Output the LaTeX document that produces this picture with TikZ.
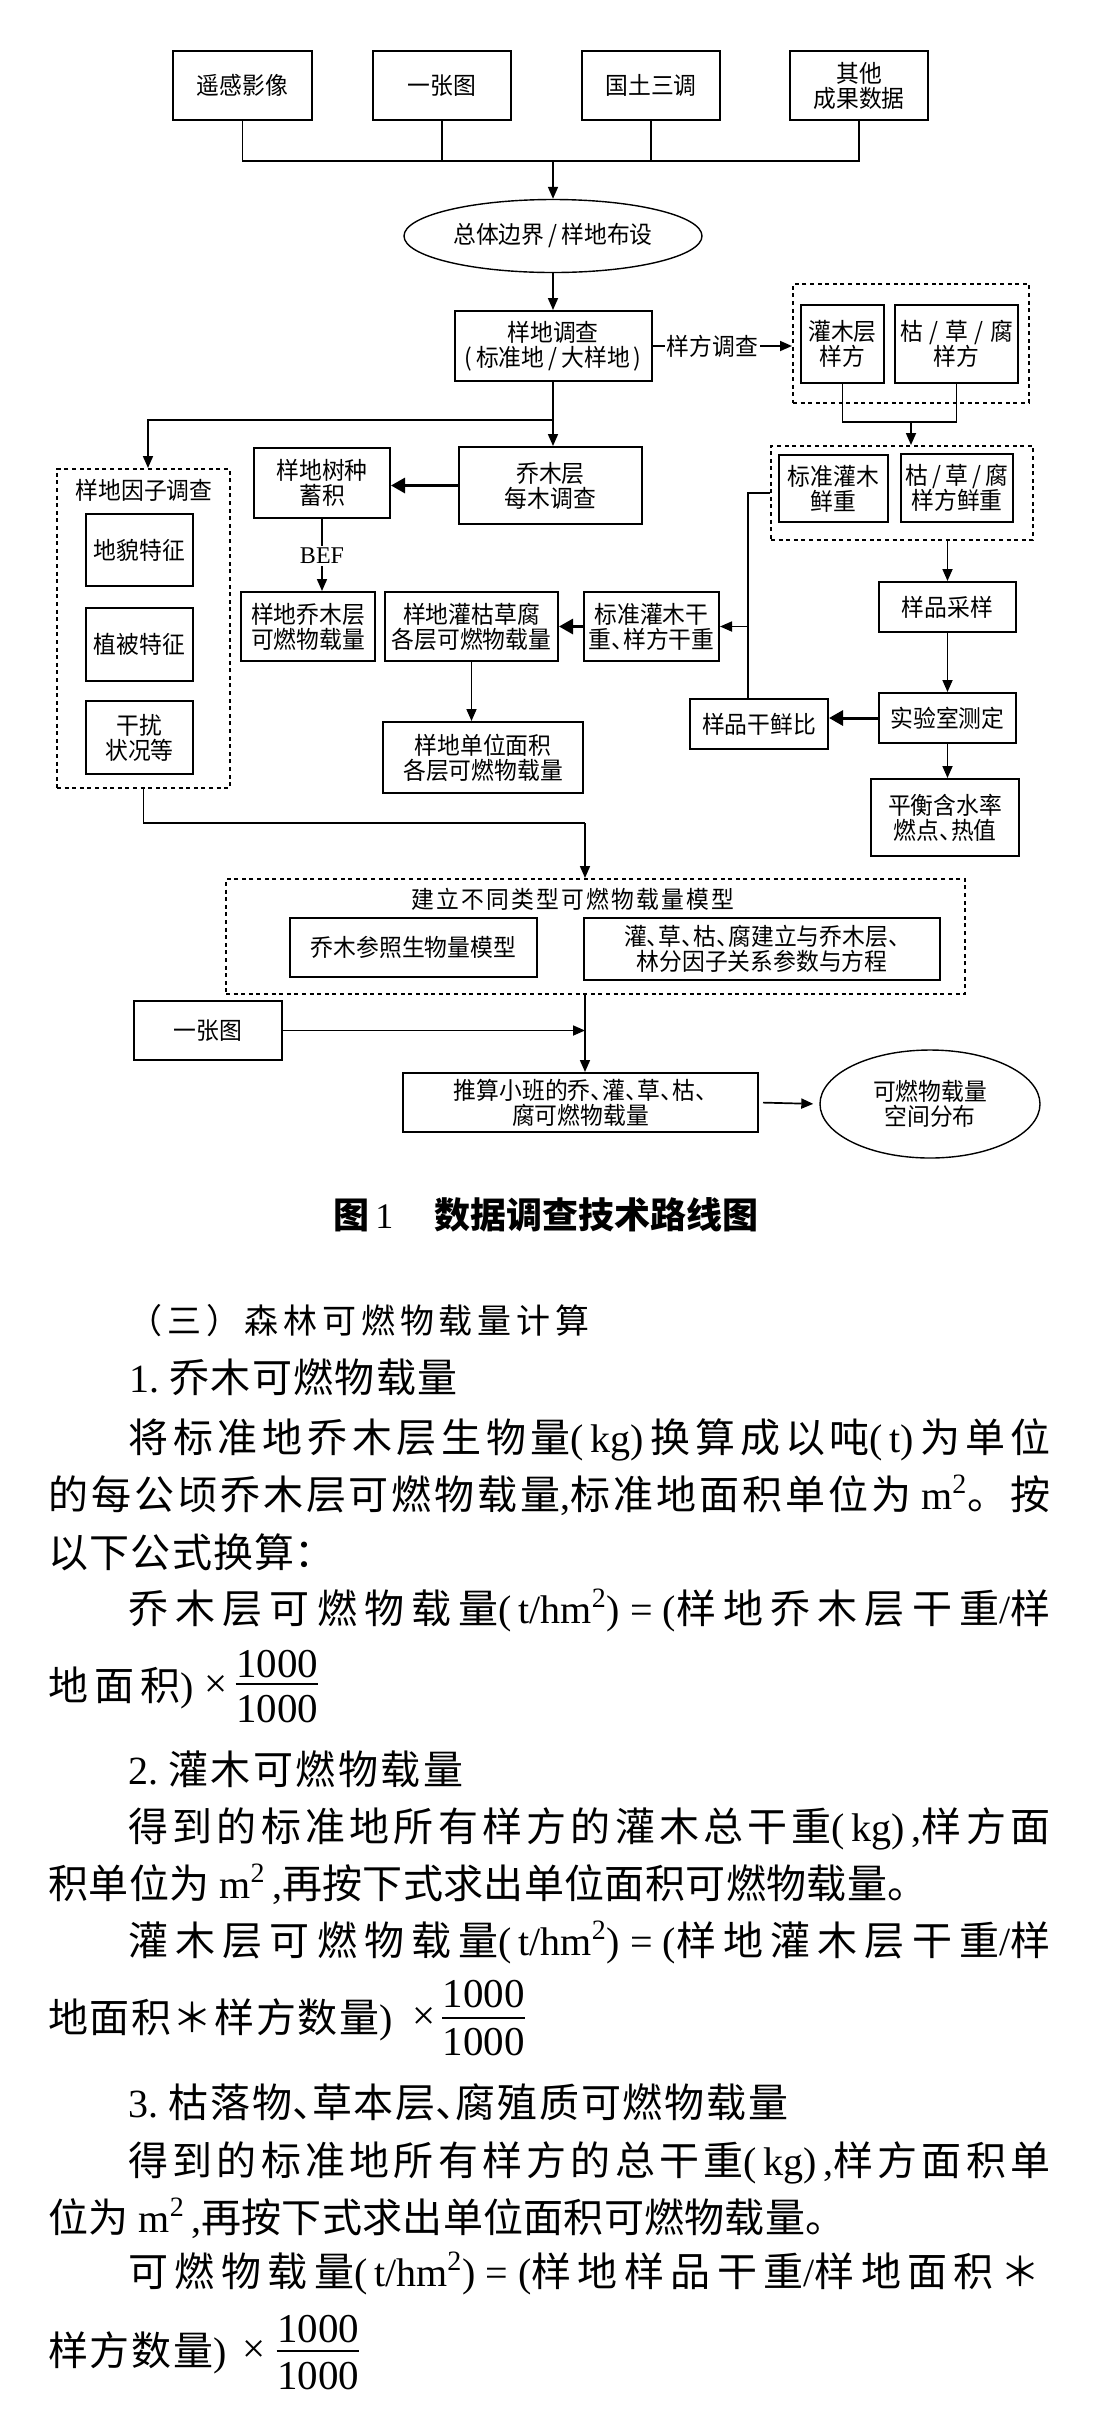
\documentclass[tikz,border=0pt]{standalone}
\usepackage{fontspec}
\setmainfont{Noto Sans CJK SC}
\newfontfamily\lat{Liberation Serif}
\newfontfamily\dfont[FakeStretch=0.95]{Noto Sans CJK SC}
\usetikzlibrary{shapes.geometric,arrows.meta}
\newdimen\pxu \pxu=0.5pt
\newXeTeXintercharclass\cjkcls
\newcount\ccnt
\ccnt="3000 \loop \XeTeXcharclass\ccnt=\cjkcls \advance\ccnt by 1 \ifnum\ccnt<"3040 \repeat
\ccnt="4E00 \loop \XeTeXcharclass\ccnt=\cjkcls \advance\ccnt by 1 \ifnum\ccnt<"A000 \repeat
\ccnt="FF00 \loop \XeTeXcharclass\ccnt=\cjkcls \advance\ccnt by 1 \ifnum\ccnt<"FFF0 \repeat
\XeTeXinterchartoks\cjkcls\cjkcls={\hskip 0pt plus 1fil\relax}
\XeTeXinterchartoks\cjkcls 0={\hskip 0pt plus 1fil\relax}
\XeTeXinterchartoks 0\cjkcls={\hskip 0pt plus 1fil\relax}
\newcommand\dun{\makebox[0.5em][l]{、}}
\newcommand\jl[2]{{\XeTeXinterchartokenstate=1\relax\makebox[#1][s]{#2}}}
\tikzset{
  bx/.style={draw, line width=1pt, rectangle, inner sep=0pt, align=center, font=\dfont\fontsize{12}{12.5}\selectfont},
  ell/.style={draw, line width=0.7pt, ellipse, inner sep=0pt, align=center, font=\dfont\fontsize{12}{12.5}\selectfont},
  grp/.style={draw, line width=1pt, dash pattern=on 2pt off 1.8pt, rectangle, inner sep=0pt},
  dtext/.style={inner sep=0pt, font=\dfont\fontsize{12}{12.5}\selectfont},
  onlbl/.style={fill=white, inner sep=1pt, font=\dfont\fontsize{12}{12.5}\selectfont},
  ln/.style={line width=0.85pt},
  arr/.style={line width=0.85pt, -{Triangle[length=6pt,width=5pt]}},
  tarr/.style={line width=1.5pt, -{Triangle[length=7pt,width=7.5pt]}},
  para/.style={anchor=west, inner sep=0pt, text height=17pt, text depth=3pt, font=\fontsize{20}{24}\selectfont},
  head/.style={anchor=west, inner sep=0pt, text height=15pt, text depth=2.5pt, font=\fontsize{17}{20}\selectfont},
  capt/.style={anchor=west, inner sep=0pt, text height=15pt, text depth=2.5pt, font=\bfseries\fontsize{18}{20}\selectfont},
  num/.style={inner sep=0pt, font=\lat\fontsize{20.5}{24}\selectfont},
  frbar/.style={line width=0.8pt}
}
\begin{document}
\begin{tikzpicture}[x=0.5pt,y=-0.5pt]
\useasboundingbox (0,0) rectangle (1109,2411);
\fill[white] (0,0) rectangle (1109,2411);

% ---------- diagram nodes ----------
\node[bx, minimum width=69.5pt, minimum height=34.5pt] (rs) at (242.5,85.5) {遥感影像};
\node[bx, minimum width=69pt, minimum height=34.5pt] (map1) at (442,85.5) {一张图};
\node[bx, minimum width=69pt, minimum height=34.5pt] (land) at (651,85.5) {国土三调};
\node[bx, minimum width=69pt, minimum height=34.5pt] (other) at (859,85.5) {其他\\成果数据};
\node[ell, minimum width=149pt, minimum height=36.5pt] (e1) at (553,236) {总体边界\,/\,样地布设};
\node[bx, minimum width=98.5pt, minimum height=35pt] (survey) at (553,346) {样地调查\\(\,标准地\,/\,大样地\,)};

\node[grp, minimum width=118pt, minimum height=59.5pt] (g1) at (911,343.5) {};
\node[bx, minimum width=41.5pt, minimum height=39pt] (shrubQ) at (842.5,344) {灌木层\\样方};
\node[bx, minimum width=61.5pt, minimum height=39pt] (litQ) at (956.5,344) {枯\;/\;草\;/\;腐\\样方};
\node[grp, minimum width=131pt, minimum height=47pt] (g2) at (902,493) {};
\node[bx, minimum width=54.5pt, minimum height=33.5pt] (shrubF) at (833.5,488.5) {标准灌木\\鲜重};
\node[bx, minimum width=56pt, minimum height=34pt] (litF) at (957,488) {枯\,/\,草\,/\,腐\\样方鲜重};
\node[bx, minimum width=68.5pt, minimum height=25pt] (sample) at (947.5,607) {样品采样};
\node[bx, minimum width=68.5pt, minimum height=25pt] (lab) at (947.5,718) {实验室测定};
\node[bx, minimum width=69pt, minimum height=25pt] (ratio) at (759,724) {样品干鲜比};
\node[bx, minimum width=74pt, minimum height=38.5pt] (balance) at (945,817.5) {平衡含水率\\燃点\dun 热值};

\node[bx, minimum width=91.5pt, minimum height=38.5pt] (qiao) at (550.5,485.5) {乔木层\\每木调查};
\node[bx, minimum width=68pt, minimum height=35pt] (tree) at (322,483) {样地树种\\蓄积};
\node[inner sep=1pt, font=\lat\fontsize{12}{14}\selectfont] (bef) at (322,556) {BEF};
\node[bx, minimum width=67pt, minimum height=34.5pt] (treeload) at (308,626.5) {样地乔木层\\可燃物载量};
\node[bx, minimum width=86.5pt, minimum height=34.5pt] (shrubload) at (471.5,626.5) {样地灌枯草腐\\各层可燃物载量};
\node[bx, minimum width=67.5pt, minimum height=34.5pt] (dryw) at (651.5,626.5) {标准灌木干\\重\dun 样方干重};
\node[bx, minimum width=100pt, minimum height=35.5pt] (unit) at (483,757.5) {样地单位面积\\各层可燃物载量};

\node[grp, minimum width=86.5pt, minimum height=159.5pt] (factor) at (143.5,628.5) {};
\node[dtext] (factorT) at (144,490) {样地因子调查};
\node[bx, minimum width=53.5pt, minimum height=36pt] (geo) at (139.5,550) {地貌特征};
\node[bx, minimum width=53.5pt, minimum height=36.5pt] (veg) at (139.5,644.5) {植被特征};
\node[bx, minimum width=53.5pt, minimum height=36.5pt] (dist) at (139.5,737.5) {干扰\\状况等};

\node[grp, minimum width=369.5pt, minimum height=57.5pt] (g3) at (595.5,936.5) {};
\node[dtext] (g3T) at (572.5,899) {\jl{323\pxu}{建立不同类型可燃物载量模型}};
\node[bx, minimum width=123.5pt, minimum height=29.5pt] (treeM) at (413.5,947.5) {乔木参照生物量模型};
\node[bx, minimum width=178pt, minimum height=31pt] (shrubM) at (762,949) {灌\dun 草\dun 枯\dun 腐建立与乔木层\dun\\林分因子关系参数与方程};
\node[bx, minimum width=74pt, minimum height=29.5pt] (map2) at (208,1030.5) {一张图};
\node[bx, minimum width=177.5pt, minimum height=29.5pt] (est) at (580.5,1102.5) {推算小班的乔\dun 灌\dun 草\dun 枯\dun\\腐可燃物载量};
\node[ell, minimum width=110pt, minimum height=54pt] (fin) at (930,1104) {可燃物载量\\空间分布};

% ---------- connectors ----------
\coordinate (bus) at (553,161);
\draw[ln] (rs.south) |- (bus);
\draw[ln] (other.south) |- (bus);
\draw[ln] (map1.south) -- (map1.south |- bus);
\draw[ln] (land.south) -- (land.south |- bus);
\draw[arr] (bus) -- (e1.north);
\draw[arr] (e1.south) -- (survey.north);
\draw[arr] (survey.east) -- node[onlbl, pos=0.43] (sqlbl) {样方调查} (survey.east -| g1.west);
\coordinate (jq) at (911,422);
\draw[ln] (shrubQ.south) |- (jq) -| (litQ.south);
\draw[arr] (jq) -- (jq |- g2.north);
\draw[ln] (g2.west) -- ++(-22,0) coordinate (v1) -- (v1 |- ratio.north);
\draw[arr] (v1 |- dryw.east) -- (dryw.east);
\draw[arr] (sample.north |- g2.south) -- (sample.north);
\draw[arr] (sample.south) -- (lab.north);
\draw[tarr] (lab.west) -- (lab.west -| ratio.east);
\draw[arr] (lab.south) -- (lab.south |- balance.north);
\draw[arr] (survey.south) -- (survey.south |- qiao.north);
\coordinate (b1) at (553,420);
\coordinate (b2) at (148,420);
\draw[arr] (b1) -- (b2) -- (b2 |- factor.north);
\draw[tarr] (qiao.west) -- (qiao.west -| tree.east);
\draw[ln] (tree.south) -- (bef.north);
\draw[arr] (bef.south) -- (bef.south |- treeload.north);
\draw[tarr] (dryw.west) -- (shrubload.east);
\draw[arr] (shrubload.south) -- (shrubload.south |- unit.north);
\coordinate (c1) at (585,823);
\draw[ln] (factor.south) |- (c1);
\draw[arr] (c1) -- (c1 |- g3.north);
\draw[arr] (c1 |- g3.south) -- (c1 |- est.north);
\draw[arr] (map2.east) -- (map2.east -| c1);
\draw[arr, shorten <=2pt, shorten >=3pt] (est.east) -- (fin.west);

% ---------- caption ----------
\node[capt] (cap1) at (333,1216) {图\,{\lat\mdseries 1}};
\node[capt] (cap2) at (434,1216) {数据调查技术路线图};

% ---------- body text ----------
\node[head] (t1) at (128,1321) {\jl{461\pxu}{（三）森林可燃物载量计算}};
\node[para] (t2) at (129,1378) {\jl{328\pxu}{{\lat 1.\ }乔木可燃物载量}};
\node[para] (t3) at (128,1438) {\jl{922\pxu}{将标准地乔木层生物量{\lat (\,kg)\,}换算成以吨{\lat (\,t)\,}为单位}};
\node[para] (t4) at (48,1495) {\jl{1002\pxu}{的每公顷乔木层可燃物载量{\lat ,}标准地面积单位为{\lat\ m\textsuperscript{2}}。按}};
\node[para] (t5) at (48,1553) {\jl{266\pxu}{以下公式换算\makebox[0.5em][l]{：}}};
\node[para] (t6) at (128,1609) {\jl{922\pxu}{乔木层可燃物载量{\lat (\,t/hm\textsuperscript{2})\ =\ (}样地乔木层干重{\lat /}样}};
\node[para] (t7) at (48,1686) {\jl{145\pxu}{地面积{\lat )}}};
\node[num] (x1) at (216,1686) {×};
\node[num] (f1n) at (277,1664) {1000};
\node[num] (f1d) at (277,1709) {1000};
\draw[frbar] (f1n.south west |- 0,1684) -- (f1n.south east |- 0,1684);

\node[para] (t8) at (128,1770) {\jl{335\pxu}{{\lat 2.\ }灌木可燃物载量}};
\node[para] (t9) at (128,1827) {\jl{922\pxu}{得到的标准地所有样方的灌木总干重{\lat (\,kg)\,,}样方面}};
\node[para] (t10) at (48,1884) {\jl{879\pxu}{积单位为{\lat\ m\textsuperscript{2}\,,}再按下式求出单位面积可燃物载量。}};
\node[para] (t11) at (128,1941) {\jl{922\pxu}{灌木层可燃物载量{\lat (\,t/hm\textsuperscript{2})\ =\ (}样地灌木层干重{\lat /}样}};
\node[para] (t12) at (48,2018) {\jl{344\pxu}{地面积＊样方数量{\lat )}}};
\node[num] (x2) at (424.5,2018) {×};
\node[num] (f2n) at (483.5,1994) {1000};
\node[num] (f2d) at (483.5,2042) {1000};
\draw[frbar] (f2n.south west |- 0,2018) -- (f2n.south east |- 0,2018);

\node[para] (t13) at (128,2103) {\jl{660\pxu}{{\lat 3.\ }枯落物\dun 草本层\dun 腐殖质可燃物载量}};
\node[para] (t14) at (128,2161) {\jl{922\pxu}{得到的标准地所有样方的总干重{\lat (\,kg)\,,}样方面积单}};
\node[para] (t15) at (48,2218) {\jl{797\pxu}{位为{\lat\ m\textsuperscript{2}\,,}再按下式求出单位面积可燃物载量。}};
\node[para] (t16) at (128,2272) {\jl{912\pxu}{可燃物载量{\lat (\,t/hm\textsuperscript{2})\ =\ (}样地样品干重{\lat /}样地面积＊}};
\node[para] (t17) at (48,2351) {\jl{178\pxu}{样方数量{\lat )}}};
\node[num] (x3) at (254.5,2351) {×};
\node[num] (f3n) at (318,2329) {1000};
\node[num] (f3d) at (318,2376) {1000};
\draw[frbar] (f3n.south west |- 0,2351) -- (f3n.south east |- 0,2351);
\end{tikzpicture}
\end{document}
